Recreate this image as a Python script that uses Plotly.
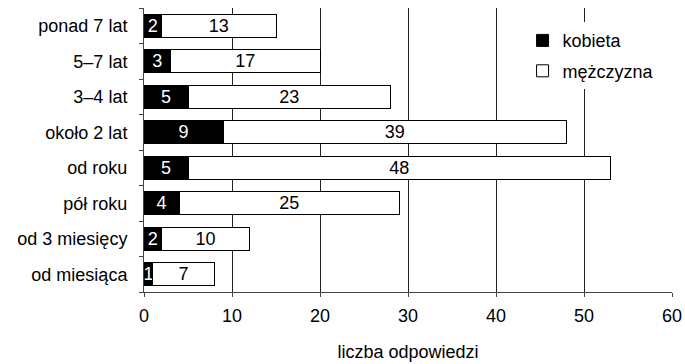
import plotly.graph_objects as go

categories = ["od miesiąca", "od 3 miesięcy", "pół roku", "od roku",
              "około 2 lat", "3–4 lat", "5–7 lat", "ponad 7 lat"]
kobieta = [1, 2, 4, 5, 9, 5, 3, 2]
mezczyzna = [7, 10, 25, 48, 39, 23, 17, 13]
x_ticks = [0, 10, 20, 30, 40, 50, 60]

FONT = "Liberation Sans, Arial, sans-serif"
FS = 18

fig = go.Figure()
fig.add_trace(go.Bar(
    y=categories, x=kobieta, name="kobieta", orientation="h",
    legendgroup="k",
    marker=dict(color="black", line=dict(color="black", width=1)),
    text=kobieta, textposition="inside", insidetextanchor="middle",
    textangle=0,
    textfont=dict(color="white", size=FS, family=FONT),
    constraintext="none", width=0.66,
))
fig.add_trace(go.Bar(
    y=categories, x=mezczyzna, name="mężczyzna", orientation="h",
    legendgroup="m",
    marker=dict(color="white", line=dict(color="black", width=1)),
    text=mezczyzna, textposition="inside", insidetextanchor="middle",
    textangle=0,
    textfont=dict(color="black", size=FS, family=FONT),
    constraintext="none", width=0.66,
))

fig.update_layout(
    barmode="stack",
    width=685, height=364,
    margin=dict(l=144, r=13, t=8, b=72),
    paper_bgcolor="white", plot_bgcolor="white",
    font=dict(family=FONT, size=FS, color="black"),
    uniformtext=dict(mode=False),
    legend=dict(
        x=0.717, y=0.95, xanchor="left", yanchor="top",
        bgcolor="white", borderwidth=0,
        font=dict(size=FS, family=FONT),
        traceorder="grouped", tracegroupgap=4, itemwidth=30,
    ),
    xaxis=dict(
        range=[0, 60], tickvals=x_ticks, ticktext=[str(v) for v in x_ticks],
        showgrid=True, gridcolor="#222", gridwidth=1,
        showline=True, linecolor="#444", linewidth=1,
        ticks="outside", ticklen=4, tickcolor="#444",
        zeroline=False, automargin=False, ticklabelstandoff=3,
        title=dict(text="liczba odpowiedzi", standoff=20,
                   font=dict(size=FS, family=FONT)),
        tickfont=dict(size=FS, family=FONT),
    ),
    yaxis=dict(
        categoryorder="array", categoryarray=categories,
        showline=True, linecolor="#444", linewidth=1,
        ticks="outside", ticklen=4, tickcolor="#444",
        tickson="boundaries", showgrid=False, automargin=False,
        tickfont=dict(size=FS, family=FONT),
        ticklabelstandoff=12,
    ),
)

fig.write_html("out.html", config={"displayModeBar": False},
               post_script="document.body.style.margin='0';")
